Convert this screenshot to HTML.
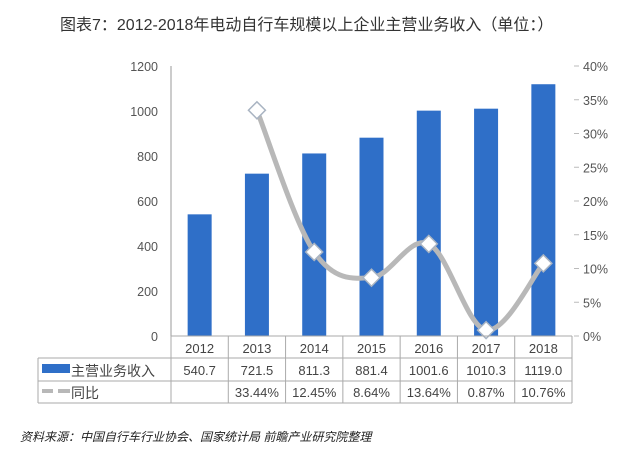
<!DOCTYPE html>
<html><head><meta charset="utf-8"><style>
body{margin:0;background:#fff;}
svg text{font-family:"Liberation Sans","Noto Sans CJK SC",sans-serif;}
</style></head><body>
<svg id="chart" width="631" height="455" xmlns="http://www.w3.org/2000/svg">
<text x="60" y="30" font-size="16" fill="#333">图表7：2012-2018年电动自行车规模以上企业主营业务收入（单位：）</text>
<g id="axes"></g><g id="bars"></g><g id="line"></g><g id="table"></g>
<text x="20" y="441" font-size="12" font-style="italic" fill="#222">资料来源：中国自行车行业协会、国家统计局 前瞻产业研究院整理</text>
</svg>
<script>
const categories=["2012","2013","2014","2015","2016","2017","2018"];
const revenue=[540.7,721.5,811.3,881.4,1001.6,1010.3,1119.0];
const revenueLabels=["540.7","721.5","811.3","881.4","1001.6","1010.3","1119.0"];
const yoy=[null,33.44,12.45,8.64,13.64,0.87,10.76];
const yoyLabels=["","33.44%","12.45%","8.64%","13.64%","0.87%","10.76%"];
const leftTicks=[0,200,400,600,800,1000,1200];
const rightTicks=[0,5,10,15,20,25,30,35,40];
const NS="http://www.w3.org/2000/svg";
const X0=171,X1=572,Y0=336,Y1=66,step=(X1-X0)/categories.length;
const yL=v=>Y0-(v/1200)*(Y0-Y1);
const yR=v=>Y0-(v/40)*(Y0-Y1);
const xc=i=>X0+step*(i+0.5);
function mk(tag,attrs,parent,txt){const e=document.createElementNS(NS,tag);for(const k in attrs)e.setAttribute(k,attrs[k]);if(txt!==undefined)e.textContent=txt;document.getElementById(parent).appendChild(e);return e;}
let e=mk('line',{x1:X0,y1:Y1,x2:X0,y2:Y0,stroke:'#bbb','stroke-width':1.5},'axes');

leftTicks.forEach(t=>{const el=mk('text',{x:158,y:yL(t)+5,'font-size':12.5,fill:'#555','text-anchor':'end'},'axes',String(t));
});
rightTicks.forEach(t=>{const el=mk('text',{x:583,y:yR(t)+5,'font-size':12.5,fill:'#555'},'axes',t+'%');

mk('line',{x1:574,x2:579,y1:yR(t),y2:yR(t),stroke:'#bbb'},'axes');});
revenue.forEach((v,i)=>{const b=mk('rect',{x:xc(i)-12,y:yL(v),width:24,height:Y0-yL(v),fill:'#2f6fc8'},'bars');
});
const pts=[];yoy.forEach((v,i)=>{if(v!==null)pts.push([xc(i),yR(v)]);});
let d='M'+pts[0][0]+','+pts[0][1];
for(let i=0;i<pts.length-1;i++){const p0=pts[i-1]||pts[i],p1=pts[i],p2=pts[i+1],p3=pts[i+2]||p2;const t=0.17;
d+=' C'+(p1[0]+(p2[0]-p0[0])*t)+','+(p1[1]+(p2[1]-p0[1])*t)+' '+(p2[0]-(p3[0]-p1[0])*t)+','+(p2[1]-(p3[1]-p1[1])*t)+' '+p2[0]+','+p2[1];}
const ln=mk('path',{d:d,fill:'none',stroke:'#b8b8b8','stroke-width':5,'stroke-linejoin':'round'},'line');

pts.forEach(p=>{const m=mk('rect',{x:p[0]-6,y:p[1]-6,width:12,height:12,fill:'#fff',stroke:'#a9b4c2','stroke-width':1.5,transform:'rotate(45 '+p[0]+' '+p[1]+')'},'line');
});
const T0=38,R=[336,358,381,403];
mk('line',{x1:X0,y1:Y0,x2:X1,y2:Y0,stroke:'#aaa'},'table');
mk('line',{x1:T0,y1:R[1],x2:X1,y2:R[1],stroke:'#aaa'},'table');
mk('line',{x1:T0,y1:R[2],x2:X1,y2:R[2],stroke:'#aaa'},'table');
mk('line',{x1:T0,y1:R[3],x2:X1,y2:R[3],stroke:'#aaa'},'table');
mk('line',{x1:T0,y1:R[1],x2:T0,y2:R[3],stroke:'#aaa'},'table');
for(let i=0;i<=categories.length;i++)mk('line',{x1:X0+step*i,y1:R[0],x2:X0+step*i,y2:R[3],stroke:'#aaa'},'table');
categories.forEach((c,i)=>{
 let t=mk('text',{x:xc(i),y:353,'font-size':13,fill:'#444','text-anchor':'middle'},'table',c);
 
 t=mk('text',{x:xc(i),y:375,'font-size':13,fill:'#444','text-anchor':'middle'},'table',revenueLabels[i]);
 
 t=mk('text',{x:xc(i),y:397,'font-size':13,fill:'#444','text-anchor':'middle'},'table',yoyLabels[i]);
 });
let lg=mk('rect',{x:42,y:364,width:28,height:9,fill:'#2f6fc8'},'table');

lg=mk('text',{x:71,y:376,'font-size':14,fill:'#444'},'table','主营业务收入');

lg=mk('line',{x1:42,y1:391,x2:70,y2:391,stroke:'#b8b8b8','stroke-width':4},'table');

mk('rect',{x:53,y:389,width:5,height:4,fill:'#fff'},'table');
lg=mk('text',{x:71,y:398,'font-size':14,fill:'#444'},'table','同比');

</script>
</body></html>
